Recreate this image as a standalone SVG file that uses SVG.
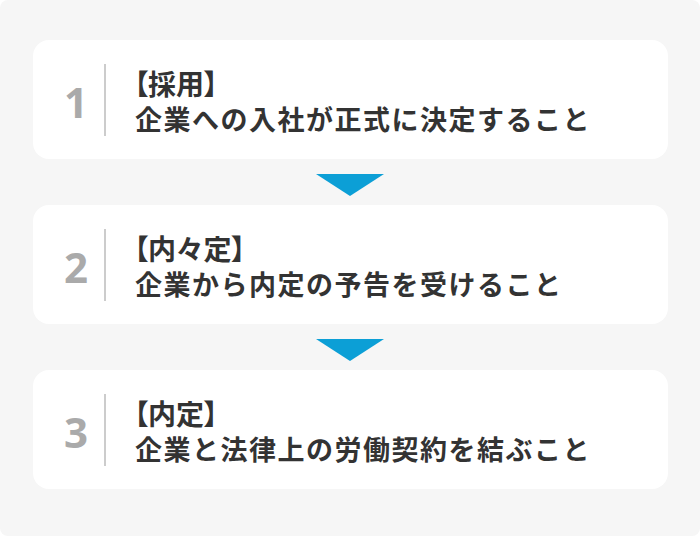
<svg xmlns="http://www.w3.org/2000/svg" width="700" height="536" viewBox="0 0 700 536">
<style>
.bg{fill:#f6f6f6}
.card{fill:#ffffff}
.num{font-family:"Open Sans","Noto Sans",sans-serif;font-weight:700;font-size:42px;fill:#aaaaaa;text-anchor:middle}
.div{stroke:#cccccc;stroke-width:2}
.ttl{font-family:"Noto Sans CJK JP",sans-serif;font-weight:700;font-size:28px;fill:#333333;font-feature-settings:"palt"}
.body{font-family:"Noto Sans CJK JP",sans-serif;font-weight:700;font-size:27px;fill:#333333;letter-spacing:1.5px}
.arr{fill:#0c9fd6}
</style>
<rect class="bg" x="0" y="0" width="700" height="536" rx="8"/>
<g id="step1">
<rect class="card" x="33" y="40" width="635" height="119" rx="16"/>
<text class="num" x="76" y="118">1</text>
<line class="div" x1="105" y1="64" x2="105" y2="136"/>
<text class="ttl" x="134" y="95">【採用】</text>
<text class="body" x="135" y="130">企業への入社が正式に決定すること</text>
</g>
<g id="step2">
<rect class="card" x="33" y="205" width="635" height="119" rx="16"/>
<text class="num" x="76" y="283">2</text>
<line class="div" x1="105" y1="229" x2="105" y2="301"/>
<text class="ttl" x="134" y="260">【内々定】</text>
<text class="body" x="135" y="295">企業から内定の予告を受けること</text>
</g>
<g id="step3">
<rect class="card" x="33" y="370" width="635" height="119" rx="16"/>
<text class="num" x="76" y="448">3</text>
<line class="div" x1="105" y1="394" x2="105" y2="466"/>
<text class="ttl" x="134" y="425">【内定】</text>
<text class="body" x="135" y="460">企業と法律上の労働契約を結ぶこと</text>
</g>
<g id="connectors">
<polygon class="arr" points="316,174 384,174 350,196"/>
<polygon class="arr" points="316,339 384,339 350,361"/>
</g>
</svg>
